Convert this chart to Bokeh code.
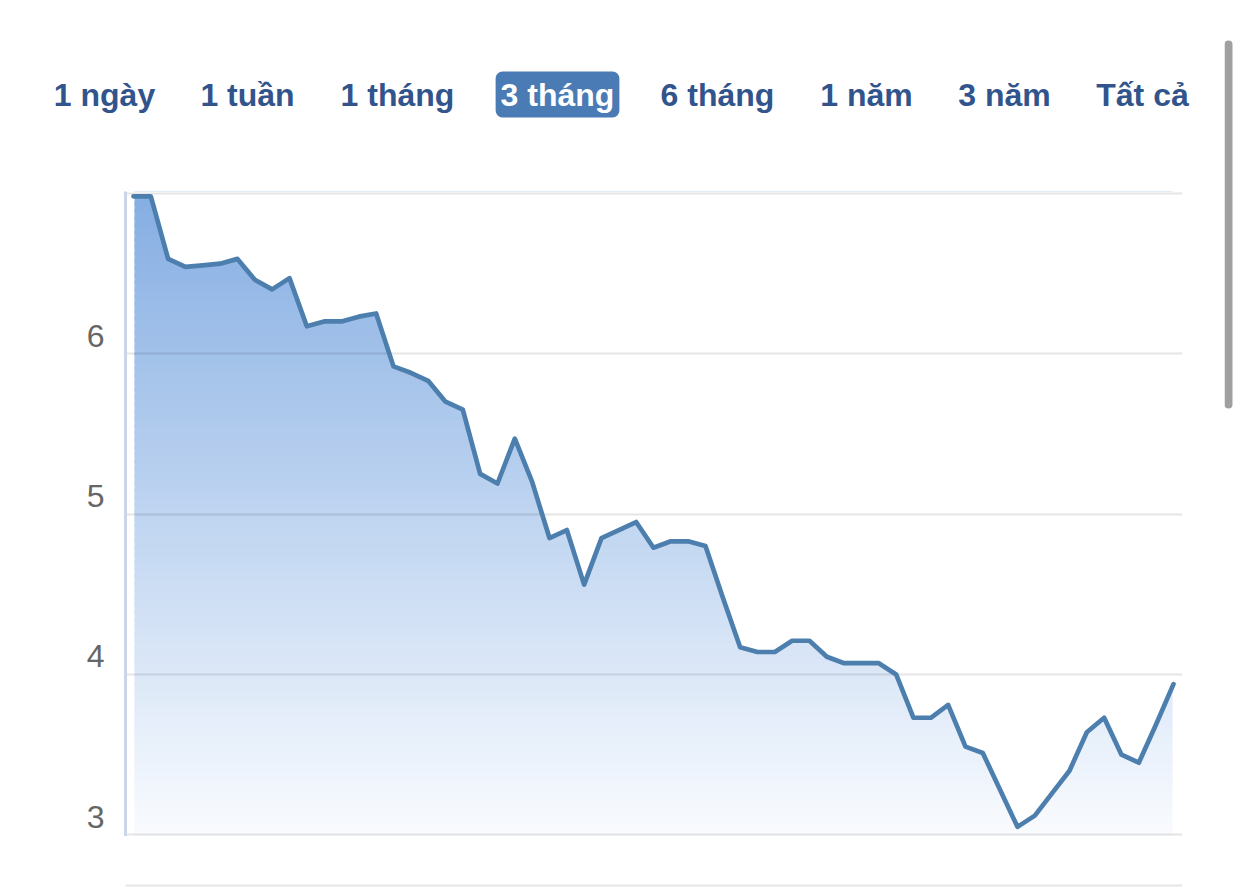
import numpy as np
from bokeh.plotting import figure
from bokeh.models import Range1d, FixedTicker, Label, LinearAxis, Span
from bokeh.layouts import column, row
from bokeh.core.properties import value
from bokeh.embed import file_html
from bokeh.resources import INLINE

# ---- data ----
range_buttons = ["1 ngày", "1 tuần", "1 tháng", "3 tháng", "6 tháng", "1 năm", "3 năm", "Tất cả"]
selected_button = "3 tháng"
prices = [6.98, 6.98, 6.59, 6.54, 6.55, 6.56, 6.59, 6.46, 6.40, 6.47,
          6.17, 6.20, 6.20, 6.23, 6.25, 5.92, 5.88, 5.83, 5.70, 5.65,
          5.25, 5.19, 5.47, 5.20, 4.85, 4.90, 4.56, 4.85, 4.90, 4.95,
          4.79, 4.83, 4.83, 4.80, 4.48, 4.17, 4.14, 4.14, 4.21, 4.21,
          4.11, 4.07, 4.07, 4.07, 4.00, 3.73, 3.73, 3.81, 3.55, 3.51,
          3.28, 3.05, 3.12, 3.26, 3.40, 3.64, 3.73, 3.50, 3.45, 3.69,
          3.94]
grid_ticks = [3, 4, 5, 6, 7]
label_ticks = [3, 4, 5, 6]

# ---- layout / style ----
FONT = "Liberation Sans"
BTN_COLOR = "#32548c"
SEL_BG = "#4a7bb5"
LINE_COLOR = "#4d7fae"
GRID_KW = dict(line_color="black", line_alpha=0.1, line_width=2)
btn_centers = [104, 247, 397, 557, 717, 866, 1004, 1142]
btn_baseline = 94
W = 1224
LEFT, RIGHT = 125, 42

# ---- top bar with range buttons (page-pixel coordinates) ----
top = figure(width=W, height=158, x_range=Range1d(0, W), y_range=Range1d(158, 0),
             x_axis_type=None, y_axis_type=None, toolbar_location=None,
             output_backend="svg", min_border=0, outline_line_color=None)
top.frame_align = False
top.grid.visible = False
plain_x = [c for c, b in zip(btn_centers, range_buttons) if b != selected_button]
plain_t = [b for b in range_buttons if b != selected_button]
top.text(x=plain_x, y=[btn_baseline] * len(plain_x), text=plain_t,
         text_font=value(FONT), text_font_style="bold", text_font_size="32px",
         text_color=BTN_COLOR, text_align="center", text_baseline="alphabetic")
sel_x = btn_centers[range_buttons.index(selected_button)]
top.add_layout(Label(x=sel_x, y=btn_baseline, text=selected_button,
                     text_font=FONT, text_font_style="bold", text_font_size="32px",
                     text_color="white", text_align="center", text_baseline="alphabetic",
                     background_fill_color=SEL_BG, border_radius=7, padding=5))

# ---- main chart ----
idx = np.arange(len(prices))
y0, y1 = 2.99, 7.01
x0, x1 = -0.46, len(prices) - 1 + 0.52
frame_h = 645
p = figure(width=W, height=33 + frame_h, x_range=Range1d(x0, x1), y_range=Range1d(y0, y1),
           toolbar_location=None, output_backend="svg",
           min_border_left=LEFT, min_border_right=RIGHT, min_border_top=33, min_border_bottom=0,
           outline_line_color=None)
p.frame_align = False
p.xaxis.visible = False
p.yaxis.visible = False
p.xgrid.visible = False

# vertical gradient fill under the line (bands + white mask above the line)
nb = 90
edges = np.linspace(y0, y1, nb + 1)
bh = edges[1] - edges[0]
c_bot = np.array([250, 252, 255])
c_top = np.array([133, 174, 227])
cols = []
for k in range(nb):
    t = (edges[k] + edges[k + 1]) / 2
    f = (t - y0) / (y1 - y0)
    c = (c_bot + (c_top - c_bot) * f).astype(int)
    cols.append("#%02x%02x%02x" % tuple(c))
p.quad(left=idx[0] + 0.06, right=idx[-1] - 0.06, bottom=edges[:-1], top=edges[1:] + 0.6 * bh,
       fill_color=cols, line_color=None, level="image")
p.varea(x=idx, y1=prices, y2=[y1 + 0.1] * len(prices), fill_color="white", level="image")

p.ygrid.ticker = FixedTicker(ticks=grid_ticks)
p.ygrid.grid_line_color = "black"
p.ygrid.grid_line_alpha = 0.1
p.ygrid.grid_line_width = 2

# y labels sit ~18px above their gridlines (Highcharts style): use a shifted label range
shift = 18 / (frame_h / (y1 - y0))
p.extra_y_ranges = {"lbl": Range1d(y0 - shift, y1 - shift)}
ax = LinearAxis(y_range_name="lbl", ticker=FixedTicker(ticks=label_ticks))
ax.major_tick_line_color = None
ax.minor_tick_line_color = None
ax.major_tick_out = 0
ax.major_tick_in = 0
ax.major_label_standoff = 21
ax.axis_line_color = "#ccd6eb"
ax.axis_line_width = 3
ax.major_label_text_font = FONT
ax.major_label_text_font_size = "32px"
ax.major_label_text_color = "#666666"
p.add_layout(ax, "left")

p.line(idx, prices, line_color=LINE_COLOR, line_width=4.7, line_join="round", line_cap="round")

# ---- strip below (next panel's top rule) ----
nav = figure(width=W, height=52, x_range=Range1d(0, 1), y_range=Range1d(52, 0),
             x_axis_type=None, y_axis_type=None, toolbar_location=None,
             output_backend="svg", min_border_left=LEFT, min_border_right=RIGHT,
             min_border_top=0, min_border_bottom=0, outline_line_color=None)
nav.frame_align = False
nav.grid.visible = False
nav.add_layout(Span(location=49, dimension="width", **GRID_KW))

# ---- scrollbar strip ----
sb = figure(width=10, height=888, x_range=Range1d(0, 10), y_range=Range1d(888, 0),
            x_axis_type=None, y_axis_type=None, toolbar_location=None,
            output_backend="svg", min_border=0, outline_line_color=None)
sb.frame_align = False
sb.grid.visible = False
sb.segment(x0=[4], y0=[44], x1=[4], y1=[404], line_color="#a0a0a0", line_width=8, line_cap="round")

layout = row(column(top, p, nav), sb)
open("out.html", "w").write(file_html(layout, INLINE))
